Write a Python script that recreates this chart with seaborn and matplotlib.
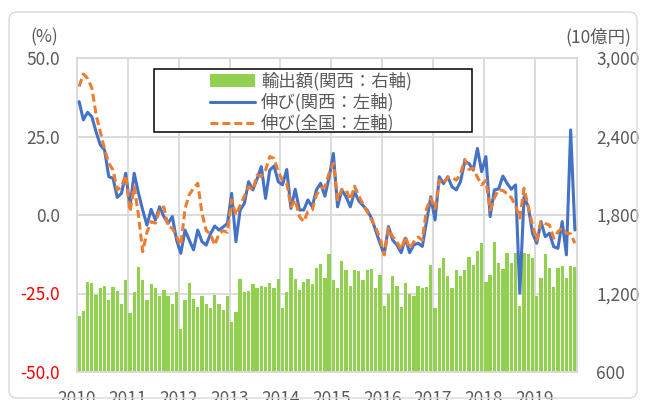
import matplotlib.pyplot as plt
import seaborn as sns
import pandas as pd
import numpy as np
from matplotlib.patches import Patch, Rectangle, FancyBboxPatch
from matplotlib.lines import Line2D

# monthly data, Jan 2010 - Oct 2019
years = [str(y) for y in range(2010, 2020)]

exports = [
    1028, 1069, 1288, 1283, 1188, 1240, 1257, 1150, 1247, 1219, 1120, 1301,
    1048, 1209, 1400, 1301, 1148, 1270, 1240, 1178, 1227, 1178, 1120, 1209,
    926, 1148, 1280, 1158, 1097, 1178, 1120, 1087, 1188, 1120, 1076, 1178,
    985, 1059, 1311, 1209, 1219, 1270, 1240, 1257, 1247, 1280, 1240, 1311,
    1087, 1209, 1397, 1311, 1227, 1288, 1311, 1270, 1397, 1423, 1321, 1502,
    1301, 1240, 1451, 1380, 1260, 1380, 1372, 1301, 1380, 1390, 1240, 1341,
    1107, 1198, 1331, 1260, 1097, 1280, 1198, 1178, 1260, 1240, 1250, 1420,
    1087, 1397, 1471, 1331, 1240, 1380, 1331, 1380, 1481, 1420, 1522, 1583,
    1290, 1341, 1594, 1431, 1390, 1512, 1431, 1512, 1107, 1512, 1502, 1471,
    1178, 1321, 1502, 1397, 1250, 1397, 1411, 1321, 1411, 1400,
]

kansai = [
    36.1, 30.3, 32.7, 31.3, 26.5, 22.3, 20.7, 12.2, 11.7, 5.6, 6.9, 13.3,
    2.6, 13.3, 7.0, 1.6, -3.2, 1.8, -1.6, 2.6, -0.5, -2.6, -0.5, -8.0,
    -12.2, -4.8, -8.0, -11.1, -4.8, -8.5, -9.6, -6.0, -3.5, -4.8, -3.8, -2.7,
    6.9, -8.5, 1.6, 3.7, 10.6, 8.0, 11.5, 15.4, 5.3, 14.3, 15.6, 10.6,
    9.6, 14.5, 2.1, 8.2, 1.6, 1.6, 4.8, 2.6, 8.0, 10.1, 6.0, 12.0,
    19.6, 2.6, 8.0, 5.8, 2.6, 7.4, 4.5, 3.0, 1.5, -1.0, -5.0, -9.0,
    -12.5, -3.7, -8.0, -9.5, -12.0, -7.4, -12.0, -9.5, -9.0, -10.0, -2.0, 5.8,
    -1.6, 12.2, 10.0, 12.2, 9.0, 8.0, 10.6, 17.0, 16.4, 14.3, 21.2, 13.8,
    18.6, -0.5, 8.0, 8.3, 12.4, 10.1, 8.2, 9.6, -24.9, 5.8, 2.6, -5.8,
    -9.0, -2.1, -6.9, -5.8, -10.1, -10.6, -2.1, -12.7, 27.1, -4.8,
]

national = [
    40.9, 44.9, 43.5, 40.5, 32.0, 26.5, 21.0, 16.5, 14.3, 8.0, 9.0, 12.7,
    1.1, 9.0, 0.0, -11.7, -5.5, -2.1, -2.6, 1.6, 2.6, -3.7, -4.2, -6.9,
    -9.6, 2.0, 6.5, 8.5, 10.1, 0.5, -5.0, -6.0, -9.6, -6.0, -5.0, -5.5,
    4.8, 0.0, 3.0, 6.0, 9.0, 8.0, 12.7, 12.2, 14.3, 18.6, 18.0, 13.8,
    11.0, 10.1, 2.6, 4.8, -0.5, -2.1, 1.1, 1.6, 6.4, 8.5, 9.0, 13.3,
    16.5, 4.8, 8.2, 8.0, 4.8, 9.2, 6.0, 3.5, 1.0, -1.5, -4.0, -7.4,
    -12.7, -4.2, -6.9, -8.5, -11.0, -6.9, -10.6, -8.5, -7.0, -8.0, 2.0, 5.3,
    2.0, 11.0, 10.1, 12.0, 12.0, 11.1, 13.0, 17.7, 14.5, 14.9, 12.0, 9.6,
    11.0, 1.6, 5.5, 8.0, 7.8, 6.8, 5.5, 3.0, -1.0, 8.5, 2.6, -3.2,
    -8.0, -2.1, -2.7, -3.2, -7.4, -5.3, -4.2, -5.8, -6.0, -9.0,
]

legend_labels = ['輸出額(関西：右軸)', '伸び(関西：左軸)', '伸び(全国：左軸)']
left_ticks = [50, 25, 0, -25, -50]
left_labels = ['50.0', '25.0', '0.0', '-25.0', '-50.0']
right_ticks = [600, 1200, 1800, 2400, 3000]
right_labels = ['600', '1,200', '1,800', '2,400', '3,000']

GREEN = '#92D050'
BLUE = '#4472C4'
ORANGE = '#ED7D31'
GRID = '#D9D9D9'
TXT = '#595959'

df = pd.DataFrame({
    'month': np.arange(len(exports)),
    'exports': exports,
    'kansai': kansai,
    'national': national,
})

sns.set_theme(style='white')
plt.rcParams['font.family'] = ['Noto Sans CJK JP', 'DejaVu Sans']

fig = plt.figure(figsize=(6.46, 4.0), dpi=100)
fig.subplots_adjust(left=77 / 646, right=577 / 646, bottom=28 / 400, top=1 - 58 / 400)
ax = fig.add_subplot(111)

# bars on the base axes (right scale), lines on twin (left scale) so lines sit on top
sns.barplot(data=df, x='month', y='exports', ax=ax, color=GREEN,
            saturation=1, width=0.78, linewidth=0)
ax.set_ylim(600, 3000)
ax.set_xlim(-0.5, len(exports) - 0.5)

ax2 = ax.twinx()
sns.lineplot(data=df, x='month', y='kansai', ax=ax2, color=BLUE, lw=2.2)
sns.lineplot(data=df, x='month', y='national', ax=ax2, color=ORANGE, lw=2.2,
             linestyle=(0, (2.6, 1.3)))
ax2.set_ylim(-50, 50)
ax2.set_xlim(-0.5, len(exports) - 0.5)

ax.yaxis.tick_right()
ax2.yaxis.tick_left()
ax.set_xlabel('')
ax.set_ylabel('')
ax2.set_xlabel('')
ax2.set_ylabel('')

ax.set_xticks([12 * k - 0.5 for k in range(len(years))], labels=years)
ax.set_yticks(right_ticks, labels=right_labels)
ax2.set_yticks(left_ticks, labels=left_labels)
for lbl, v in zip(ax2.get_yticklabels(), left_ticks):
    lbl.set_color('#FF0000' if v < 0 else TXT)

ax.tick_params(axis='x', length=0, pad=13, labelsize=12.5, labelcolor=TXT)
ax.tick_params(axis='y', length=0, pad=14, labelsize=12.5, labelcolor=TXT)
ax2.tick_params(axis='y', length=0, pad=12, labelsize=12.5)

ax.grid(True, color=GRID, lw=1.3)
ax.set_axisbelow(True)
ax2.grid(False)
for s in ax.spines.values():
    s.set_color(GRID)
    s.set_linewidth(1.3)
for s in ax2.spines.values():
    s.set_visible(False)

fig.text(44 / 646, 1 - 37 / 400, '(%)', ha='center', va='center', fontsize=12.5, color=TXT)
fig.text(598 / 646, 1 - 37 / 400, '(10億円)', ha='center', va='center', fontsize=12.5, color=TXT)

# legend box (wider than its content, white fill)
fig.add_artist(Rectangle((154 / 646, 1 - 132 / 400), 318 / 646, 63 / 400,
                         transform=fig.transFigure, facecolor='white',
                         edgecolor='black', lw=1.1, zorder=4.5))
handles = [
    Patch(facecolor=GREEN, edgecolor='none'),
    Line2D([], [], color=BLUE, lw=2.2),
    Line2D([], [], color=ORANGE, lw=2.2, linestyle=(0, (2.6, 1.3))),
]
fig.legend(handles, legend_labels, loc='upper left',
           bbox_to_anchor=(210 / 646, 1 - 72 / 400), frameon=False,
           borderpad=0, borderaxespad=0, handlelength=2.6, handletextpad=0.35,
           labelspacing=0.15, fontsize=12.5, labelcolor=TXT)

# chart area border
fig.add_artist(FancyBboxPatch((0.09, 0.02), 6.28, 3.86,
                              boxstyle='round,pad=0,rounding_size=0.08',
                              transform=fig.dpi_scale_trans, facecolor='none',
                              edgecolor=GRID, lw=1.0, zorder=6))

fig.savefig('out.png', dpi=100)
